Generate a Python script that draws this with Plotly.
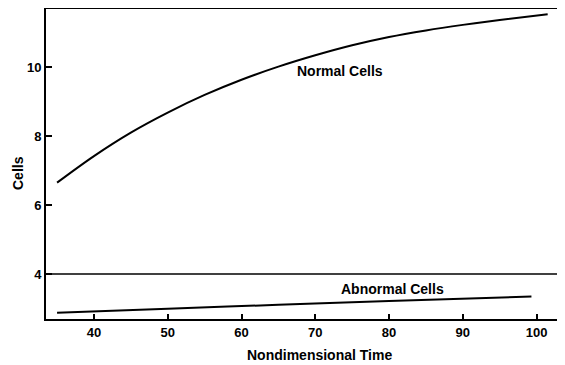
import plotly.graph_objects as go

normal_x = [35, 40, 45, 50, 55, 60, 65, 70, 75, 80, 85, 90, 95, 101.5]
normal_y = [6.65, 7.42, 8.1, 8.68, 9.19, 9.63, 10.01, 10.34, 10.63, 10.87, 11.06, 11.22, 11.36, 11.53]

abnormal_x = [35, 50, 65, 80, 99.3]
abnormal_y = [2.88, 3.0, 3.11, 3.22, 3.35]

threshold = 4

x_ticks = [40, 50, 60, 70, 80, 90, 100]
y_ticks = [4, 6, 8, 10]

fam = "Liberation Sans, Arial, sans-serif"
font = dict(family=fam, size=12, color="black")

fig = go.Figure()
fig.add_trace(go.Scatter(x=normal_x, y=normal_y, mode="lines", line=dict(color="black", width=2, shape="spline", smoothing=1.0), showlegend=False))
fig.add_trace(go.Scatter(x=abnormal_x, y=abnormal_y, mode="lines", line=dict(color="black", width=2, shape="spline"), showlegend=False))

fig.add_shape(type="line", xref="x domain", yref="y", x0=0, x1=1, y0=threshold, y1=threshold, line=dict(color="black", width=1.5))

fig.add_annotation(x=73.3, y=9.88, text="<b>Normal Cells</b>", showarrow=False, font=dict(family=fam, size=14, color="black"))
fig.add_annotation(x=80.4, y=3.56, text="<b>Abnormal Cells</b>", showarrow=False, font=dict(family=fam, size=14, color="black"))

# axis titles
fig.add_annotation(xref="paper", yref="paper", x=0.535, y=0, yshift=-36, yanchor="middle", xanchor="center",
                   text="<b>Nondimensional Time</b>", showarrow=False, font=dict(family=fam, size=14, color="black"))
fig.add_annotation(xref="paper", yref="paper", x=0, xshift=-28, y=0.471, yanchor="middle", xanchor="center",
                   textangle=-90, text="<b>Cells</b>", showarrow=False, font=dict(family=fam, size=14, color="black"))

# page body has an 8px margin, so the figure is shrunk and shifted to land in the window
fig.update_layout(
    width=557, height=357,
    margin=dict(l=38, r=7, t=1, b=46, autoexpand=False),
    plot_bgcolor="white", paper_bgcolor="white",
    font=font,
)
fig.update_xaxes(range=[33.5, 102.9], tickvals=x_ticks, ticktext=[f"<b>{v}</b>" for v in x_ticks],
                 tickfont=dict(family=fam, size=13, color="black"),
                 ticks="inside", ticklen=5, tickwidth=1.5, tickcolor="black",
                 showline=True, linecolor="black", linewidth=2, mirror=True, showgrid=False, zeroline=False,
                 automargin=False)
fig.update_yaxes(range=[2.7, 11.68], tickvals=y_ticks, ticktext=[f"<b>{v}</b>" for v in y_ticks],
                 tickfont=dict(family=fam, size=13, color="black"),
                 ticks="inside", ticklen=6, tickwidth=1.5, tickcolor="black",
                 showline=True, linecolor="black", linewidth=2, mirror=True, showgrid=False, zeroline=False,
                 automargin=False)

fig.write_html("out.html")
